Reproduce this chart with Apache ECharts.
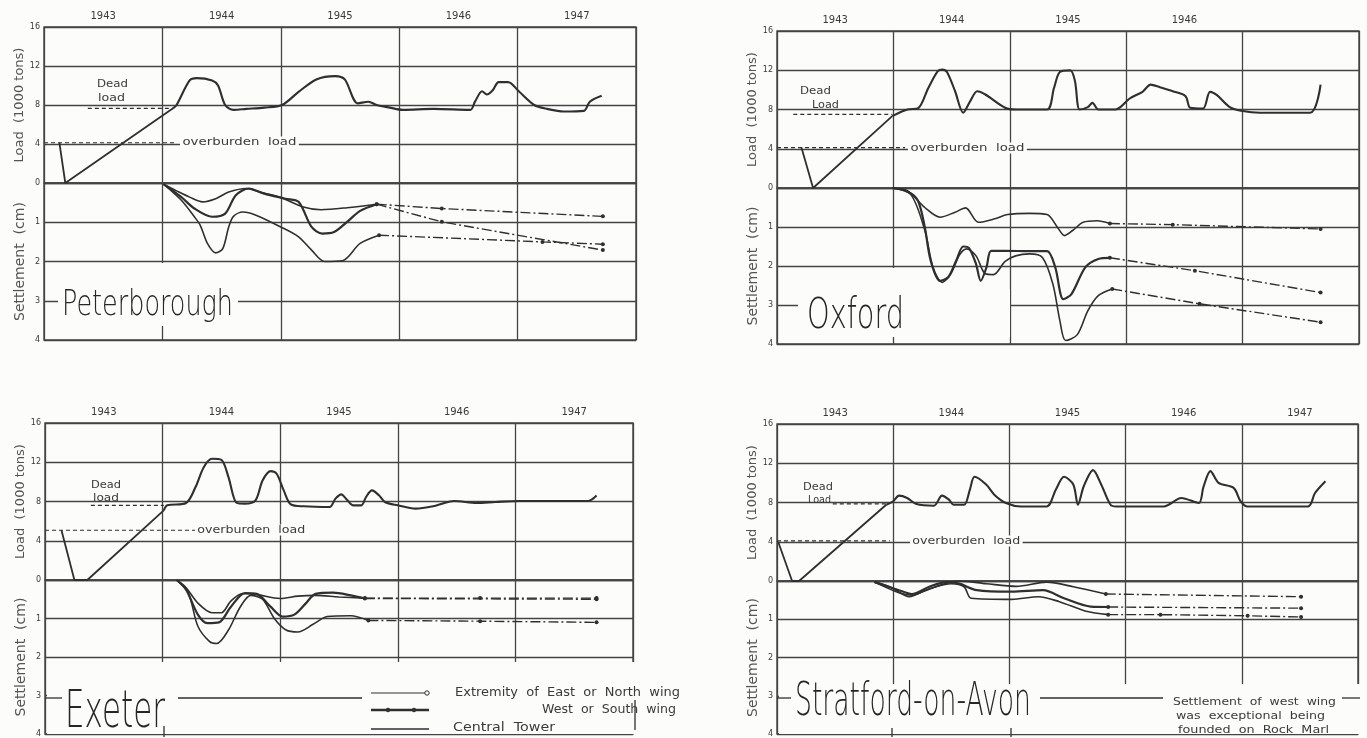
<!DOCTYPE html>
<html><head><meta charset="utf-8">
<script src="https://cdn.jsdelivr.net/npm/echarts@6/dist/echarts.min.js"></script>
<style>html,body{margin:0;padding:0;background:#fcfcfa;}#c{width:1367px;height:738px;}</style>
</head><body><div id="c"></div><script>
// ---------------- DATA ----------------
const YEARS = ['1943','1944','1945','1946','1947'];
const YEARS_OX = ['1943','1944','1945','1946',''];
const LOAD_TICKS = [0,16,4];      // min, max, interval (1000 tons)
const SETT_TICKS = [0,4,1];       // min, max, interval (cm)

// Peterborough
const pLoadRamp = [[1943.13,4.13],[1943.18,0],[1944.09,7.66]];
const pLoad = [[1944.09,7.66],[1944.12,8.0],[1944.23,10.52],[1944.29,10.76],[1944.42,10.52],[1944.47,10.0],[1944.53,8.0],[1944.6,7.5],[1944.71,7.6],[1944.86,7.73],[1945.01,8.0],[1945.15,9.34],[1945.3,10.62],[1945.46,10.96],[1945.54,10.62],[1945.65,8.17],[1945.74,8.34],[1945.81,8.0],[1945.92,7.73],[1946.03,7.5],[1946.29,7.6],[1946.6,7.5],[1946.64,8.34],[1946.7,9.41],[1946.74,9.08],[1946.79,9.51],[1946.84,10.35],[1946.92,10.35],[1947.01,9.41],[1947.14,8.0],[1947.25,7.6],[1947.39,7.33],[1947.56,7.4],[1947.61,8.34],[1947.71,8.94]];
const pDead = [[1943.37,7.66],[1944.09,7.66]];
const pOver = [[1943.0,4.13],[1944.12,4.13]];
const pSetU = [[1944.01,0.03],[1944.12,0.2],[1944.23,0.36],[1944.34,0.48],[1944.45,0.4],[1944.56,0.23],[1944.71,0.14],[1944.82,0.23],[1945.0,0.37],[1945.19,0.61],[1945.34,0.68],[1945.56,0.63],[1945.81,0.54]];
const pSetUExt = [[1945.81,0.54],[1946.36,0.65],[1947.72,0.85]];
const pSetM = [[1944.01,0.03],[1944.16,0.36],[1944.27,0.65],[1944.42,0.86],[1944.53,0.78],[1944.62,0.31],[1944.73,0.14],[1944.86,0.27],[1945.04,0.4],[1945.15,0.48],[1945.26,1.12],[1945.35,1.29],[1945.45,1.25],[1945.56,0.99],[1945.67,0.71],[1945.81,0.54]];
const pSetMExt = [[1945.81,0.54],[1946.36,0.99],[1947.72,1.71]];
const pSetL = [[1944.01,0.03],[1944.16,0.44],[1944.27,0.86],[1944.32,1.08],[1944.38,1.54],[1944.45,1.78],[1944.51,1.67],[1944.56,1.12],[1944.6,0.85],[1944.68,0.74],[1944.79,0.82],[1945.0,1.12],[1945.15,1.37],[1945.26,1.71],[1945.37,2.0],[1945.52,1.98],[1945.67,1.54],[1945.83,1.33]];
const pSetLExt = [[1945.83,1.33],[1947.21,1.5],[1947.72,1.56]];

// Oxford
const oLoadRamp = [[1943.21,4.12],[1943.31,0],[1943.99,7.33]];
const oLoad = [[1943.99,7.33],[1944.12,8.0],[1944.21,8.1],[1944.3,10.2],[1944.38,11.89],[1944.42,12.06],[1944.46,11.82],[1944.53,9.86],[1944.6,7.67],[1944.66,8.85],[1944.72,9.86],[1944.79,9.53],[1944.96,8.18],[1945.05,8.0],[1945.32,8.0],[1945.38,10.2],[1945.43,11.82],[1945.52,11.99],[1945.56,10.88],[1945.6,8.0],[1945.67,8.24],[1945.71,8.68],[1945.76,8.0],[1945.91,8.0],[1945.95,8.24],[1946.03,9.12],[1946.14,9.8],[1946.21,10.54],[1946.29,10.27],[1946.4,9.86],[1946.51,9.36],[1946.55,8.18],[1946.66,8.1],[1946.72,9.8],[1946.78,9.46],[1946.89,8.24],[1947.0,7.84],[1947.15,7.67],[1947.58,7.67],[1947.67,10.54]];
const oDead = [[1943.14,7.5],[1943.99,7.5]];
const oOver = [[1943.0,4.12],[1944.1,4.12]];
const oSetU = [[1943.99,0],[1944.12,0.07],[1944.27,0.5],[1944.4,0.75],[1944.53,0.62],[1944.62,0.51],[1944.73,0.88],[1944.87,0.79],[1944.98,0.68],[1945.17,0.65],[1945.32,0.68],[1945.41,1.01],[1945.47,1.22],[1945.54,1.09],[1945.63,0.88],[1945.75,0.84],[1945.86,0.91]];
const oSetUExt = [[1945.86,0.91],[1946.4,0.94],[1947.67,1.05]];
const oSetM = [[1943.99,0],[1944.12,0.09],[1944.21,0.32],[1944.27,1.01],[1944.32,1.86],[1944.4,2.38],[1944.47,2.29],[1944.54,1.86],[1944.6,1.5],[1944.65,1.54],[1944.71,1.95],[1944.75,2.38],[1944.8,2.03],[1944.84,1.61],[1944.96,1.61],[1945.17,1.62],[1945.32,1.62],[1945.39,2.03],[1945.46,2.85],[1945.53,2.72],[1945.65,2.03],[1945.76,1.82],[1945.86,1.79]];
const oSetMExt = [[1945.86,1.79],[1946.59,2.12],[1947.67,2.68]];
const oSetL = [[1943.99,0],[1944.15,0.17],[1944.27,1.09],[1944.34,2.03],[1944.42,2.42],[1944.49,2.22],[1944.57,1.71],[1944.63,1.56],[1944.71,1.74],[1944.79,2.2],[1944.86,2.22],[1944.96,1.88],[1945.05,1.74],[1945.17,1.69],[1945.28,1.78],[1945.37,2.46],[1945.43,3.4],[1945.48,3.91],[1945.58,3.76],[1945.67,3.15],[1945.76,2.76],[1945.88,2.59]];
const oSetLExt = [[1945.88,2.59],[1946.63,2.97],[1947.67,3.44]];

// Exeter
const eLoadRamp = [[1943.14,5.07],[1943.25,0],[1943.36,0],[1944.01,7.1]];
const eLoad = [[1944.01,7.1],[1944.04,7.61],[1944.2,7.85],[1944.28,9.47],[1944.35,11.5],[1944.42,12.35],[1944.5,12.25],[1944.56,10.49],[1944.63,7.85],[1944.7,7.78],[1944.79,8.12],[1944.85,10.15],[1944.92,11.1],[1944.97,10.83],[1945.03,9.13],[1945.09,7.71],[1945.2,7.51],[1945.42,7.44],[1945.47,8.29],[1945.52,8.73],[1945.56,8.29],[1945.62,7.61],[1945.69,7.61],[1945.73,8.46],[1945.78,9.13],[1945.84,8.63],[1945.89,7.95],[1946.0,7.61],[1946.15,7.27],[1946.3,7.51],[1946.48,8.05],[1946.67,7.85],[1946.83,7.95],[1947.03,8.05],[1947.62,8.05],[1947.69,8.6]];
const eDead = [[1943.39,7.61],[1944.01,7.61]];
const eOver = [[1943.0,5.07],[1944.28,5.07]];
const eSetA = [[1944.12,0],[1944.2,0.2],[1944.3,0.6],[1944.42,0.85],[1944.5,0.85],[1944.58,0.55],[1944.68,0.35],[1944.8,0.38],[1945.0,0.48],[1945.15,0.42],[1945.3,0.4],[1945.5,0.44],[1945.72,0.47]];
const eSetAExt = [[1945.72,0.47],[1946.7,0.47],[1947.69,0.47]];
const eSetB = [[1944.12,0],[1944.2,0.25],[1944.3,0.9],[1944.38,1.12],[1944.48,1.1],[1944.58,0.7],[1944.7,0.34],[1944.8,0.36],[1944.92,0.7],[1945.02,0.95],[1945.12,0.9],[1945.22,0.6],[1945.3,0.36],[1945.45,0.33],[1945.6,0.4],[1945.72,0.48]];
const eSetBExt = [[1945.72,0.48],[1947.69,0.5]];
const eSetC = [[1944.12,0],[1944.22,0.35],[1944.3,1.2],[1944.4,1.6],[1944.46,1.65],[1944.56,1.3],[1944.66,0.7],[1944.75,0.4],[1944.85,0.5],[1944.95,1.0],[1945.05,1.3],[1945.15,1.35],[1945.28,1.15],[1945.4,0.95],[1945.6,0.93],[1945.75,1.05]];
const eSetCExt = [[1945.75,1.05],[1946.7,1.07],[1947.69,1.1]];

// Stratford-on-Avon
const sLoadRamp = [[1943.01,4.0],[1943.13,0],[1943.19,0],[1943.94,7.77]];
const sLoad = [[1943.94,7.77],[1944.0,8.12],[1944.05,8.7],[1944.12,8.46],[1944.2,7.84],[1944.35,7.67],[1944.42,8.7],[1944.48,8.29],[1944.52,7.77],[1944.61,7.77],[1944.66,9.32],[1944.7,10.62],[1944.8,9.83],[1944.87,8.8],[1944.97,7.95],[1945.1,7.6],[1945.32,7.6],[1945.4,9.32],[1945.47,10.62],[1945.55,9.83],[1945.59,7.77],[1945.64,9.66],[1945.72,11.3],[1945.79,9.83],[1945.87,7.77],[1945.92,7.6],[1946.33,7.6],[1946.48,8.46],[1946.63,7.95],[1946.67,9.59],[1946.73,11.2],[1946.8,10.0],[1946.93,9.49],[1946.99,8.12],[1947.05,7.6],[1947.57,7.6],[1947.63,8.97],[1947.72,10.17]];
const sDead = [[1943.48,7.85],[1943.95,7.85]];
const sOver = [[1943.0,4.08],[1943.97,4.08]];
const sSetA = [[1943.84,0.03],[1943.97,0.15],[1944.14,0.41],[1944.27,0.26],[1944.42,0.09],[1944.57,0.0],[1944.8,0.07],[1945.06,0.14],[1945.32,0.03],[1945.55,0.15],[1945.83,0.34]];
const sSetAExt = [[1945.83,0.34],[1947.51,0.41]];
const sSetB = [[1943.84,0.03],[1944.05,0.24],[1944.16,0.34],[1944.31,0.15],[1944.46,0.03],[1944.57,0.07],[1944.72,0.24],[1945.02,0.28],[1945.29,0.24],[1945.47,0.45],[1945.7,0.67],[1945.85,0.68]];
const sSetBExt = [[1945.85,0.68],[1947.51,0.71]];
const sSetC = [[1943.84,0.03],[1944.05,0.31],[1944.16,0.37],[1944.31,0.2],[1944.5,0.07],[1944.61,0.15],[1944.67,0.45],[1945.02,0.48],[1945.25,0.41],[1945.43,0.54],[1945.66,0.79],[1945.85,0.88]];
const sSetCExt = [[1945.85,0.88],[1946.3,0.88],[1947.05,0.91],[1947.51,0.94]];

// ---------------- LAYOUT / STYLE ----------------
const BG = '#fcfcfa', INK = '#2f2f2f', GRIDC = '#444', TXT = '#3a3a3a', NAMEC = '#555';
const FONT = '"DejaVu Sans", sans-serif';
const TFONT = '"DejaVu Sans", sans-serif';

const panels = [
  {box:{l:44,r:636,t:27,m:183,b:340}, years:YEARS, ramp:pLoadRamp, load:pLoad, dead:pDead, over:pOver,
   sets:[[pSetU,pSetUExt],[pSetM,pSetMExt],[pSetL,pSetLExt]]},
  {box:{l:777,r:1359,t:31,m:188,b:344}, years:YEARS_OX, ramp:oLoadRamp, load:oLoad, dead:oDead, over:oOver,
   sets:[[oSetU,oSetUExt],[oSetM,oSetMExt],[oSetL,oSetLExt]]},
  {box:{l:45,r:633,t:423,m:580,b:737}, years:YEARS, ramp:eLoadRamp, load:eLoad, dead:eDead, over:eOver,
   sets:[[eSetA,eSetAExt],[eSetB,eSetBExt],[eSetC,eSetCExt]]},
  {box:{l:777,r:1358,t:424,m:581,b:737}, years:YEARS, ramp:sLoadRamp, load:sLoad, dead:sDead, over:sOver,
   sets:[[sSetA,sSetAExt],[sSetB,sSetBExt],[sSetC,sSetCExt]]}
];

const grid = [], xAxis = [], yAxis = [], series = [];
const splitStyle = {show:true, lineStyle:{color:GRIDC, width:1.3}};
panels.forEach((p, k) => {
  const b = p.box, gl = 2*k, gs = 2*k+1;
  grid.push({left:b.l, top:b.t, width:b.r-b.l, height:b.m-b.t, show:true, borderColor:GRIDC, borderWidth:1.4, backgroundColor:'transparent'});
  grid.push({left:b.l, top:b.m, width:b.r-b.l, height:b.b-b.m, show:true, borderColor:GRIDC, borderWidth:1.4, backgroundColor:'transparent'});
  [gl, gs].forEach(g => xAxis[g] = {type:'value', gridIndex:g, min:1943, max:1948, interval:1,
     axisLabel:{show:false}, axisTick:{show:false}, axisLine:{show:false}, splitLine:splitStyle});
  yAxis[gl] = {type:'value', gridIndex:gl, min:LOAD_TICKS[0], max:LOAD_TICKS[1], interval:LOAD_TICKS[2],
     name:'Load  (1000 tons)', nameLocation:'middle', nameGap:17,
     nameTextStyle:{color:NAMEC, fontSize:13, fontFamily:FONT},
     axisLabel:{color:TXT, fontSize:8, margin:4, fontFamily:FONT},
     axisTick:{show:false}, axisLine:{show:false}, splitLine:splitStyle};
  yAxis[gs] = {type:'value', gridIndex:gs, min:SETT_TICKS[0], max:SETT_TICKS[1], interval:SETT_TICKS[2], inverse:true,
     name:'Settlement  (cm)', nameLocation:'middle', nameGap:17,
     nameTextStyle:{color:NAMEC, fontSize:14, fontFamily:FONT},
     axisLabel:{color:TXT, fontSize:8, margin:4, fontFamily:FONT, showMinLabel:false},
     axisTick:{show:false}, axisLine:{show:false}, splitLine:splitStyle};

  const ln = (g, data, o) => series.push(Object.assign({type:'line', xAxisIndex:g, yAxisIndex:g, data,
     symbol:'none', showSymbol:false, silent:true, animation:false, z:3,
     lineStyle:{color:INK, width:o.w||1.8, type:o.type||'solid'}}, o.extra||{}));
  ln(gl, p.ramp, {w:1.8});
  ln(gl, p.load, {w:2.1, extra:{smooth:0.3}});
  ln(gl, p.dead, {w:1.2, type:[4,3]});
  ln(gl, p.over, {w:1.2, type:[4,3]});
  p.sets.forEach((s, i) => {
    ln(gs, s[0], {w: i===1 ? 2.2 : 1.6, extra:{smooth:0.3}});
    ln(gs, s[1], {w:1.4, type:[10,3,2,3], extra:{symbol:'circle', showSymbol:true, symbolSize:4, itemStyle:{color:INK}}});
  });
});
// year label axes (top of each load grid)
panels.forEach((p, k) => xAxis.push({type:'category', gridIndex:2*k, position:'top', data:p.years, boundaryGap:true,
  axisLine:{show:false}, axisTick:{show:false}, splitLine:{show:false},
  axisLabel:{color:TXT, fontSize:10, margin:6, fontFamily:FONT}}));

// ---------------- GRAPHIC TEXT ----------------
const mctx = document.createElement('canvas').getContext('2d');
function fitText(s, x, y, w, size, o) {
  o = o || {};
  const fam = o.family || FONT, wt = o.weight || 'normal';
  mctx.font = wt + ' ' + size + 'px ' + fam;
  const nat = mctx.measureText(s).width;
  const sc = w ? w / nat : 1;
  const st = {text:s, fontSize:size, fontFamily:fam, fontWeight:wt, fill:o.color||TXT,
    textAlign:o.align||'left', align:o.align||'left', textVerticalAlign:'middle', verticalAlign:'middle'};
  if (o.bg) { st.backgroundColor = BG; st.padding = [0,2]; }
  return {type:'text', x, y, scaleX:sc, z:100, silent:true, style:st};
}
const rect = (x, y, w, h) => ({type:'rect', z:50, silent:true, shape:{x, y, width:w, height:h}, style:{fill:BG}});
const seg = (x1, y1, x2, y2, lw, dash) => ({type:'line', z:60, silent:true, shape:{x1,y1,x2,y2}, style:{stroke:INK, lineWidth:lw||1.4, lineDash:dash||null}});
const dot = (cx, cy, r, hollow) => ({type:'circle', z:61, silent:true, shape:{cx,cy,r}, style:{fill:hollow?BG:INK, stroke:INK, lineWidth:1}});

const g = [];
// blanking regions
g.push(rect(58, 263, 180, 63));          // Peterborough title
g.push(rect(798, 289, 212, 48));         // Oxford title
g.push(rect(889, 268, 8, 22));
g.push(rect(47, 662, 588, 72));          // Exeter lower block
g.push(rect(779, 684, 581, 50));         // Stratford lower block
// restore grid pieces
g.push(seg(45, 698, 62, 698, 1.3), seg(178, 698, 362, 698, 1.3), seg(164, 726, 164, 737, 1.3), seg(635, 700, 635, 730, 1.3));
g.push(seg(777, 698, 791, 698, 1.3), seg(1040, 698, 1163, 698, 1.3), seg(1342, 698, 1360, 698, 1.3),
       seg(892, 728, 892, 737, 1.3), seg(1011, 728, 1011, 737, 1.3));

// titles
const TT = {family:TFONT, weight:200, color:'#262626'};
g.push(fitText('Peterborough', 62, 306, 171, 36, TT));
g.push(fitText('Oxford', 807, 317, 97, 42, TT));
g.push(fitText('Exeter', 65, 713, 100, 52, TT));
g.push(fitText('Stratford-on-Avon', 795, 703, 236, 46, TT));

// dead / overburden labels
g.push(fitText('Dead', 97, 84, 31, 11), fitText('load', 98, 98, 27, 11));
g.push(fitText('overburden  load', 180, 142, 114, 11, {bg:true}));
g.push(fitText('Dead', 800, 91, 31, 11), fitText('Load', 812, 105, 27, 11));
g.push(fitText('overburden  load', 908, 148, 114, 11, {bg:true}));
g.push(fitText('Dead', 91, 485, 30, 11), fitText('load', 93, 498, 26, 11));
g.push(fitText('overburden  load', 195, 530, 108, 11, {bg:true}));
g.push(fitText('Dead', 803, 487, 30, 11), fitText('Load', 808, 500, 23, 11));
g.push(fitText('overburden  load', 910, 541, 108, 11, {bg:true}));

// Exeter key
g.push(seg(371, 693, 429, 693, 1.2), dot(427, 693, 2.2, true));
g.push(fitText('Extremity  of  East  or  North  wing', 455, 693, 225, 12));
g.push(seg(371, 710, 429, 710, 2.4), dot(388, 710, 1.8), dot(414, 710, 1.8));
g.push(fitText('West  or  South  wing', 676, 710, 134, 12, {align:'right'}));
g.push(seg(371, 729, 429, 729, 1.4));
g.push(fitText('Central  Tower', 453, 728, 102, 12));

// Stratford note
g.push(fitText('Settlement  of  west  wing', 1173, 702, 163, 10));
g.push(fitText('was  exceptional  being', 1176, 716, 149, 10));
g.push(fitText('founded  on  Rock  Marl', 1178, 730, 151, 10));

const chart = echarts.init(document.getElementById('c'), null, {renderer:'canvas'});
chart.setOption({backgroundColor:BG, animation:false, grid, xAxis, yAxis, series, graphic:{elements:g}});
</script></body></html>
